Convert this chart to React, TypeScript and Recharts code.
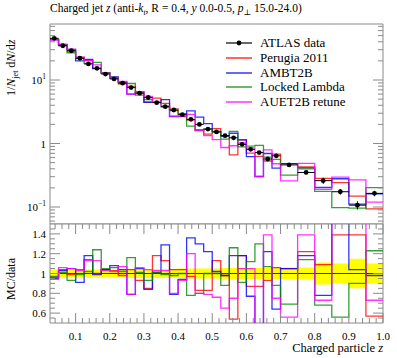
import React from 'react';
import {
  Area,
  ComposedChart,
  ErrorBar,
  Legend,
  Line,
  ReferenceArea,
  ReferenceLine,
  Scatter,
  XAxis,
  YAxis,
} from 'recharts';

// bin edges of the charged-particle z histogram
const BIN_EDGES = [
  0.025, 0.05, 0.075, 0.1, 0.125, 0.15, 0.175, 0.2, 0.225, 0.25, 0.275, 0.3,
  0.325, 0.35, 0.375, 0.4, 0.425, 0.45, 0.475, 0.5, 0.525, 0.55, 0.575, 0.6,
  0.625, 0.65, 0.675, 0.7, 0.75, 0.8, 0.85, 0.9, 0.95, 1.0,
];

// ATLAS data, 1/N dN/dz
const ATLAS_DATA = [
  45.4, 34.6, 28.9, 22.0, 17.9, 15.3, 12.4, 10.4, 8.9, 7.6, 6.2, 5.3, 4.4, 3.8,
  3.37, 2.84, 2.4, 2.0, 1.69, 1.52, 1.33, 1.23, 0.97, 0.81, 0.72, 0.57, 0.64,
  0.46, 0.35, 0.26, 0.174, 0.107, 0.164,
];
// relative uncertainty of the data (yellow band)
const ATLAS_REL_ERR = [
  0.04, 0.04, 0.04, 0.04, 0.04, 0.04, 0.04, 0.04, 0.04, 0.045, 0.045, 0.045,
  0.045, 0.045, 0.045, 0.05, 0.05, 0.05, 0.05, 0.05, 0.055, 0.055, 0.055,
  0.055, 0.055, 0.055, 0.055, 0.06, 0.06, 0.11, 0.1, 0.15, 0.1,
];

// MC / data ratios
const PERUGIA_RATIO = [
  0.96, 1.04, 0.99, 1.04, 1.14, 1.0, 1.04, 1.03, 0.98, 1.04, 0.93, 0.85, 1.18,
  1.13, 1.04, 1.04, 0.97, 0.83, 0.83, 1.13, 0.98, 0.54, 1.18, 0.87, 0.87, 0.93,
  1.06, 1.05, 1.22, 1.09, 1.39, 1.39, 0.57,
];
const AMBT2B_RATIO = [
  0.95, 1.03, 1.05, 0.91, 1.18, 0.99, 1.04, 1.08, 1.04, 0.79, 1.05, 0.84, 1.01,
  1.29, 0.79, 0.94, 1.36, 1.3, 1.22, 1.02, 0.98, 1.18, 1.18, 0.77, 0.42, 1.22,
  0.64, 1.05, 1.18, 0.78, 1.6, 1.04, 0.98,
];
const LOCKED_RATIO = [
  0.97, 1.01, 0.93, 0.99, 1.02, 1.24, 1.05, 1.06, 1.02, 1.16, 1.01, 0.93, 1.01,
  0.99, 0.98, 1.0, 0.78, 0.8, 1.0, 1.0, 0.88, 1.26, 0.91, 1.12, 1.3, 1.07,
  0.88, 0.69, 1.14, 0.68, 0.56, 0.9, 1.23,
];
const AUET2B_RATIO = [
  0.94, 1.06, 1.05, 1.03, 1.13, 1.13, 1.03, 1.02, 1.07, 0.79, 1.06, 1.04, 1.03,
  1.03, 0.8, 0.93, 1.2, 0.8, 0.79, 0.76, 0.65, 0.75, 1.05, 1.05, 0.42, 1.39,
  0.75, 0.56, 1.39, 0.73, 1.7, 2.5, 0.73,
];

const SERIES = [
  { name: 'Perugia 2011', color: '#ff0000', ratio: PERUGIA_RATIO },
  { name: 'AMBT2B', color: '#0000ff', ratio: AMBT2B_RATIO },
  { name: 'Locked Lambda', color: '#008800', ratio: LOCKED_RATIO },
  { name: 'AUET2B retune', color: '#ff00ff', ratio: AUET2B_RATIO },
];

const X_MAJOR = [0.1, 0.2, 0.3, 0.4, 0.5, 0.6, 0.7, 0.8, 0.9, 1.0];
const X_MAJOR_LABELS = ['0.1', '0.2', '0.3', '0.4', '0.5', '0.6', '0.7', '0.8', '0.9', '1.0'];
const X_TICKS: number[] = [];
for (let i = 2; i <= 50; i++) X_TICKS.push(Number((i * 0.02).toFixed(2)));

const MAIN_Y_TICKS = [
  0.06, 0.07, 0.08, 0.09, 0.1, 0.2, 0.3, 0.4, 0.5, 0.6, 0.7, 0.8, 0.9, 1, 2, 3,
  4, 5, 6, 7, 8, 9, 10, 20, 30, 40, 50, 60, 70,
];
const RATIO_Y_MAJOR = [0.6, 0.8, 1, 1.2, 1.4];
const RATIO_Y_LABELS = ['0.6', '0.8', '1', '1.2', '1.4'];
const RATIO_Y_TICKS: number[] = [];
for (let i = 11; i <= 29; i++) RATIO_Y_TICKS.push(Number((i * 0.05).toFixed(2)));

const AXIS = '#8a8a8a';
const FONT = '"Liberation Serif", "DejaVu Serif", serif';
const PLOT_L = 50;
const PLOT_R = 383;
const MAIN_TOP = 24;
const MAIN_BOTTOM = 224;
const MAIN_DOMAIN: [number, number] = [0.054, 76.2];
const R_TOP = 24;
const R_BOTTOM = 123;

const stepRows = (vals: number[]) =>
  BIN_EDGES.map((x, i) => ({ x, y: vals[Math.min(i, vals.length - 1)] }));

const dataPoints = ATLAS_DATA.map((v, i) => {
  const lo = BIN_EDGES[i];
  const hi = BIN_EDGES[i + 1];
  return { x: (lo + hi) / 2, y: v, ex: (hi - lo) / 2, ey: v * ATLAS_REL_ERR[i] };
});

const bandRows = BIN_EDGES.map((x, i) => {
  const e = ATLAS_REL_ERR[Math.min(i, ATLAS_REL_ERR.length - 1)];
  return { x, y: [1 - e, 1 + e] };
});

const isMajorX = (v: number) => X_MAJOR.some((m) => Math.abs(m - v) < 1e-6);

function MainXTick({ x, payload }: any) {
  const len = isMajorX(payload.value) ? 10 : 5;
  return (
    <g stroke={AXIS}>
      <line x1={x} x2={x} y1={MAIN_BOTTOM} y2={MAIN_BOTTOM - len} />
      <line x1={x} x2={x} y1={MAIN_TOP} y2={MAIN_TOP + len} />
    </g>
  );
}

function RatioXTick({ x, payload }: any) {
  const idx = X_MAJOR.findIndex((m) => Math.abs(m - payload.value) < 1e-6);
  const len = idx >= 0 ? 10 : 5;
  return (
    <g>
      <line x1={x} x2={x} y1={R_BOTTOM} y2={R_BOTTOM - len} stroke={AXIS} />
      <line x1={x} x2={x} y1={R_TOP} y2={R_TOP + len} stroke={AXIS} />
      {idx >= 0 && (
        <text x={x} y={R_BOTTOM + 17} textAnchor="middle" fontSize={11} fontFamily={FONT} fill="#000">
          {X_MAJOR_LABELS[idx]}
        </text>
      )}
    </g>
  );
}

function MainYTick({ y, payload }: any) {
  const v = payload.value;
  const lg = Math.log10(v);
  const major = Math.abs(lg - Math.round(lg)) < 1e-6;
  const len = major ? 10 : 5;
  const p = Math.round(lg);
  return (
    <g>
      <line x1={PLOT_L} x2={PLOT_L + len} y1={y} y2={y} stroke={AXIS} />
      <line x1={PLOT_R} x2={PLOT_R - len} y1={y} y2={y} stroke={AXIS} />
      {major && (
        <text x={PLOT_L - 4} y={y + 4} textAnchor="end" fontSize={11} fontFamily={FONT} fill="#000">
          {p === 0 ? '1' : '10'}
          {p !== 0 && (
            <tspan dy={-5} fontSize={7.5}>
              {p < 0 ? `\u2212${-p}` : `${p}`}
            </tspan>
          )}
        </text>
      )}
    </g>
  );
}

function RatioYTick({ y, payload }: any) {
  const idx = RATIO_Y_MAJOR.findIndex((m) => Math.abs(m - payload.value) < 1e-6);
  const len = idx >= 0 ? 10 : 5;
  return (
    <g>
      <line x1={PLOT_L} x2={PLOT_L + len} y1={y} y2={y} stroke={AXIS} />
      <line x1={PLOT_R} x2={PLOT_R - len} y1={y} y2={y} stroke={AXIS} />
      {idx >= 0 && (
        <text x={PLOT_L - 4} y={y + 4} textAnchor="end" fontSize={11} fontFamily={FONT} fill="#000">
          {RATIO_Y_LABELS[idx]}
        </text>
      )}
    </g>
  );
}

function DataDot({ cx, cy }: any) {
  return <circle cx={cx} cy={cy} r={2.4} fill="#000" />;
}

function LegendBox() {
  const rows = [{ name: 'ATLAS data', color: '#000' }, ...SERIES];
  return (
    <div style={{ fontFamily: FONT, fontSize: 13, color: '#000' }}>
      {rows.map((r, i) => (
        <div key={r.name} style={{ display: 'flex', alignItems: 'center', height: 14.7 }}>
          <svg width={32} height={10} style={{ marginRight: 4 }}>
            <line x1={2} x2={28} y1={5} y2={5} stroke={r.color} strokeWidth={1.2} />
            {i === 0 && <circle cx={15} cy={5} r={2.4} fill="#000" />}
          </svg>
          <span>{r.name}</span>
        </div>
      ))}
    </div>
  );
}

export default function App() {
  return (
    <div style={{ position: 'absolute', left: 0, top: 0, width: 397, height: 358, background: '#fff' }}>
      <div
        style={{
          position: 'absolute',
          left: 50,
          top: 2,
          fontFamily: FONT,
          fontSize: 11.5,
          whiteSpace: 'nowrap',
        }}
      >
        Charged jet <i>z</i> (anti-<i>k</i>
        <sub style={{ fontSize: 8 }}>
          <i>t</i>
        </sub>
        , R = 0.4, <i>y</i> 0.0-0.5, <i>p</i>
        <sub style={{ fontSize: 8 }}>⊥</sub> 15.0-24.0)
      </div>

      <div
        style={{
          position: 'absolute',
          left: 4,
          top: 96,
          transformOrigin: 'left top',
          transform: 'rotate(-90deg)',
          fontFamily: FONT,
          fontSize: 12,
          whiteSpace: 'nowrap',
        }}
      >
        1/<i>N</i>
        <sub style={{ fontSize: 8 }}>jet</sub> d<i>N</i>/d<i>z</i>
      </div>

      <div
        style={{
          position: 'absolute',
          left: 4,
          top: 300,
          transformOrigin: 'left top',
          transform: 'rotate(-90deg)',
          fontFamily: FONT,
          fontSize: 12,
          whiteSpace: 'nowrap',
        }}
      >
        MC/data
      </div>

      <div
        style={{
          position: 'absolute',
          right: 397 - PLOT_R,
          top: 341,
          fontFamily: FONT,
          fontSize: 12.5,
          whiteSpace: 'nowrap',
        }}
      >
        Charged particle <i>z</i>
      </div>

      <div style={{ position: 'absolute', left: 0, top: 0 }}>
        <ComposedChart width={397} height={224} margin={{ top: MAIN_TOP, right: 397 - PLOT_R, bottom: 0, left: 0 }}>
          <XAxis
            dataKey="x"
            type="number"
            domain={[0.025, 1.0]}
            allowDataOverflow
            ticks={X_TICKS}
            interval={0}
            height={0}
            tickSize={0}
            tickMargin={0}
            axisLine={false}
            tickLine={false}
            tick={<MainXTick />}
          />
          <YAxis
            dataKey="y"
            type="number"
            scale="log"
            domain={MAIN_DOMAIN}
            allowDataOverflow
            ticks={MAIN_Y_TICKS}
            interval={0}
            width={PLOT_L}
            tickSize={0}
            tickMargin={0}
            axisLine={false}
            tickLine={false}
            tick={<MainYTick />}
          />
          <ReferenceArea
            x1={0.025}
            x2={1.0}
            y1={MAIN_DOMAIN[0]}
            y2={MAIN_DOMAIN[1]}
            fill="none"
            stroke={AXIS}
            strokeWidth={1}
          />
          {SERIES.map((s) => (
            <Line
              key={s.name}
              data={stepRows(ATLAS_DATA.map((d, i) => d * s.ratio[i]))}
              dataKey="y"
              type="stepAfter"
              stroke={s.color}
              strokeWidth={1.3}
              strokeOpacity={0.8}
              dot={false}
              isAnimationActive={false}
            />
          ))}
          <Scatter data={dataPoints} dataKey="y" fill="#000" shape={<DataDot />} isAnimationActive={false}>
            <ErrorBar dataKey="ex" direction="x" width={0} stroke="#000" strokeWidth={1} isAnimationActive={false} />
            <ErrorBar dataKey="ey" direction="y" width={0} stroke="#000" strokeWidth={1} isAnimationActive={false} />
          </Scatter>
          <Legend
            layout="vertical"
            align="center"
            verticalAlign="middle"
            wrapperStyle={{ left: 224, top: 36, width: 170 }}
            content={() => <LegendBox />}
          />
        </ComposedChart>
      </div>

      <div style={{ position: 'absolute', left: 0, top: 200 }}>
        <ComposedChart width={397} height={158} margin={{ top: R_TOP, right: 397 - PLOT_R, bottom: 0, left: 0 }}>
          <XAxis
            dataKey="x"
            type="number"
            domain={[0.025, 1.0]}
            allowDataOverflow
            ticks={X_TICKS}
            interval={0}
            height={35}
            tickSize={0}
            tickMargin={0}
            axisLine={false}
            tickLine={false}
            tick={<RatioXTick />}
          />
          <YAxis
            dataKey="y"
            type="number"
            domain={[0.5, 1.5]}
            allowDataOverflow
            ticks={RATIO_Y_TICKS}
            interval={0}
            width={PLOT_L}
            tickSize={0}
            tickMargin={0}
            axisLine={false}
            tickLine={false}
            tick={<RatioYTick />}
          />
          <Area
            data={bandRows}
            dataKey="y"
            type="stepAfter"
            fill="#ffff00"
            fillOpacity={1}
            stroke="none"
            isAnimationActive={false}
          />
          <ReferenceLine y={1} stroke="#333" strokeWidth={1} />
          {SERIES.map((s) => (
            <Line
              key={s.name}
              data={stepRows(s.ratio)}
              dataKey="y"
              type="stepAfter"
              stroke={s.color}
              strokeWidth={1.3}
              strokeOpacity={0.8}
              dot={false}
              isAnimationActive={false}
            />
          ))}
          <ReferenceArea x1={0.025} x2={1.0} y1={0.5} y2={1.5} fill="none" stroke={AXIS} strokeWidth={1} />
        </ComposedChart>
      </div>
    </div>
  );
}
